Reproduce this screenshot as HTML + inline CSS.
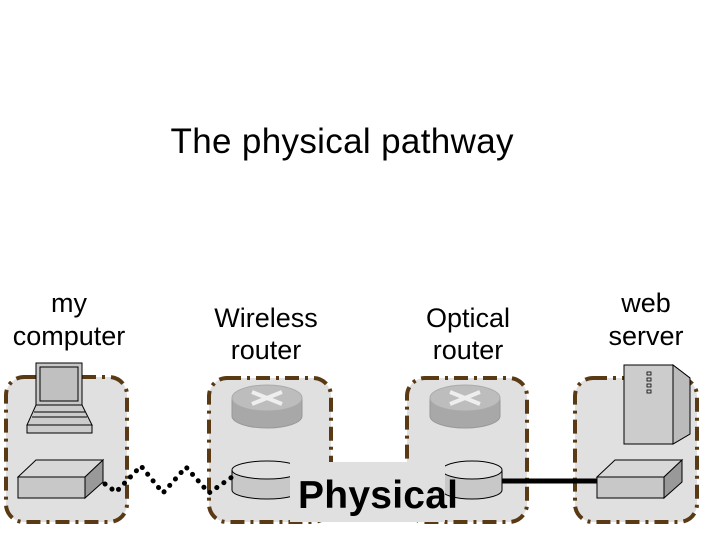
<!DOCTYPE html>
<html><head><style>html,body{margin:0;padding:0;background:#fff}svg{display:block}</style></head>
<body>
<svg width="720" height="540" viewBox="0 0 720 540" xmlns="http://www.w3.org/2000/svg" font-family="Liberation Sans, sans-serif">
<text x="342" y="153" font-size="35" text-anchor="middle" textLength="343">The physical pathway</text>
<g font-size="27" text-anchor="middle" fill="#000">
<text x="69" y="312">my</text><text x="69" y="345">computer</text>
<text x="266" y="327">Wireless</text><text x="266" y="359">router</text>
<text x="468" y="327">Optical</text><text x="468" y="359">router</text>
<text x="646" y="312">web</text><text x="646" y="345">server</text>
</g>
<g fill="#e0e0e0" stroke="#5a3a14" stroke-width="4" stroke-dasharray="14,6,3,6">
<rect x="6" y="377" width="121" height="145" rx="18"/>
<rect x="209" y="378" width="122" height="144" rx="18"/>
<rect x="407" y="378" width="120" height="144" rx="18"/>
<rect x="575" y="378" width="122" height="144" rx="18"/>
</g>
<!-- laptop -->
<rect x="36" y="363" width="46" height="42" fill="#c8c8c8" stroke="#000"/>
<rect x="40" y="367" width="38" height="34" fill="#c0c0c0" stroke="#000"/>
<polygon points="36,405 82,405 92,425 27,425" fill="#ccc" stroke="#000"/>
<rect x="27" y="425" width="65" height="8" fill="#ccc" stroke="#000"/>
<line x1="34" y1="412" x2="85" y2="412" stroke="#000"/><line x1="32" y1="417" x2="87" y2="417" stroke="#000"/>
<!-- switch boxes -->
<g stroke="#000" stroke-width="1">
<polygon points="18,477 36,460 103,460 85,477" fill="#d8d8d8"/>
<polygon points="85,477 103,460 103,482 85,498" fill="#999"/>
<rect x="18" y="477" width="67" height="21" fill="#c8c8c8"/>
<polygon points="597,477 615,460 682,460 664,477" fill="#d8d8d8"/>
<polygon points="664,477 682,460 682,482 664,498" fill="#999"/>
<rect x="597" y="477" width="67" height="21" fill="#c8c8c8"/>
</g>
<!-- routers -->
<g>
<path d="M232,398 v18 a35,12 0 0 0 70,0 v-18" fill="#a8a8a8" stroke="#999"/>
<ellipse cx="267" cy="398" rx="35" ry="13" fill="#bdbdbd" stroke="#aaa"/>
<path d="M252,392 l30,12 M282,392 l-30,12" stroke="#eee" stroke-width="4"/>
<path d="M430,398 v18 a35,12 0 0 0 70,0 v-18" fill="#a8a8a8" stroke="#999"/>
<ellipse cx="465" cy="398" rx="35" ry="13" fill="#bdbdbd" stroke="#aaa"/>
<path d="M450,392 l30,12 M480,392 l-30,12" stroke="#eee" stroke-width="4"/>
</g>
<!-- cylinders -->
<path d="M232,470 v20 a35,9 0 0 0 70,0 v-20" fill="#c8c8c8" stroke="#000"/>
<ellipse cx="267" cy="470" rx="35" ry="9" fill="#e0e0e0" stroke="#000"/>
<path d="M442,470 v20 a30,9 0 0 0 60,0 v-20" fill="#c8c8c8" stroke="#000"/>
<ellipse cx="472" cy="470" rx="30" ry="9" fill="#e0e0e0" stroke="#000"/>
<!-- server -->
<polygon points="624,365 673,365 690,378 690,434 673,444 624,444" fill="#ccc" stroke="#000"/>
<polygon points="673,365 690,378 690,434 673,444" fill="#bbb" stroke="#000"/>
<line x1="673" y1="365" x2="673" y2="444" stroke="#000"/>
<g fill="none" stroke="#000" stroke-width="0.8"><rect x="647" y="372" width="4" height="3"/><rect x="647" y="378" width="4" height="3"/><rect x="647" y="384" width="4" height="3"/><rect x="647" y="390" width="4" height="3"/></g>
<!-- links -->
<polyline points="105,484 116,492 141,466 163,493 186,467 209,493 232,477" fill="none" stroke="#000" stroke-width="5" stroke-dasharray="0.1,8.5" stroke-linecap="round"/>
<line x1="502" y1="481" x2="597" y2="481" stroke="#000" stroke-width="5"/>
<rect x="290" y="462" width="155" height="60" fill="#e0e0e0"/>
<text x="298" y="508" font-size="39" font-weight="bold" textLength="160">Physical</text>
</svg>
</body></html>
